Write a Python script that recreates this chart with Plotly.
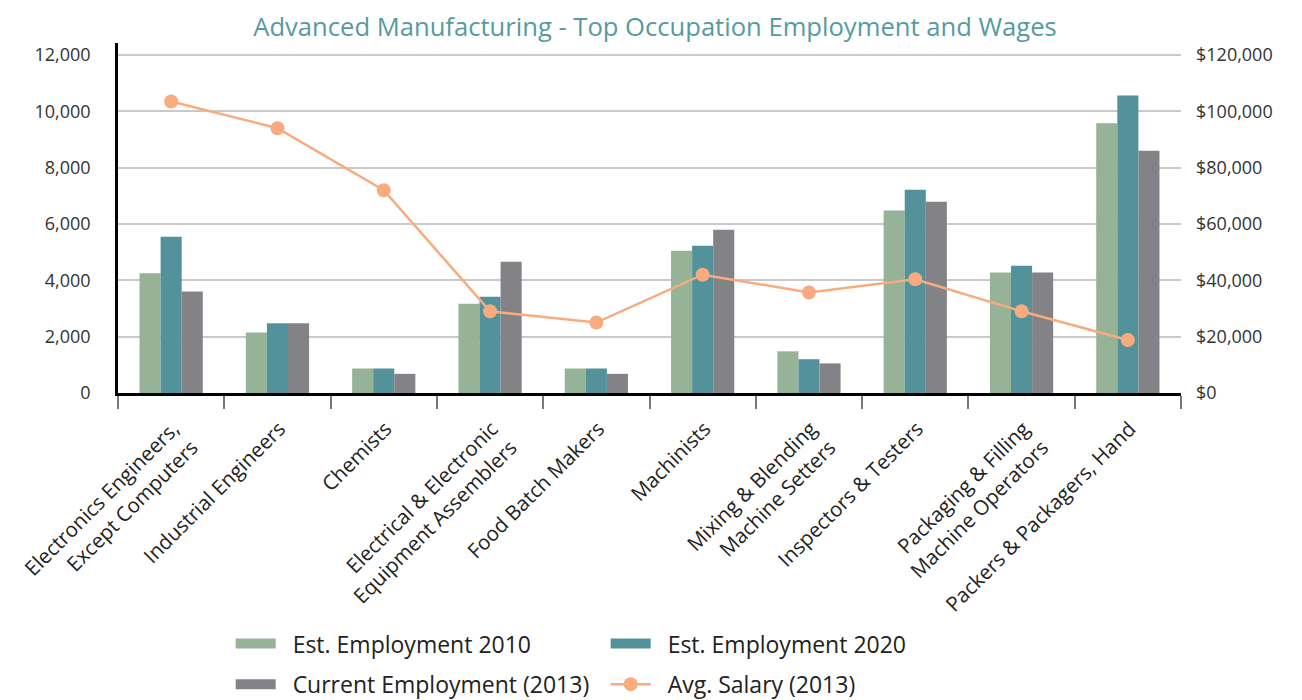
import plotly.graph_objects as go

categories = [
    "Electronics Engineers,<br>Except Computers",
    "Industrial Engineers",
    "Chemists",
    "Electrical & Electronic<br>Equipment Assemblers",
    "Food Batch Makers",
    "Machinists",
    "Mixing & Blending<br>Machine Setters",
    "Inspectors & Testers",
    "Packaging & Filling<br>Machine Operators",
    "Packers & Packagers, Hand",
]
emp_2010 = [4250, 2150, 870, 3170, 870, 5050, 1480, 6480, 4280, 9580]
emp_2020 = [5550, 2480, 870, 3420, 870, 5230, 1200, 7220, 4520, 10560]
emp_2013 = [3600, 2480, 680, 4660, 680, 5800, 1050, 6790, 4280, 8600]
salary_2013 = [103500, 94000, 72000, 29000, 25000, 42000, 35700, 40400, 29000, 18800]

left_ticks = [0, 2000, 4000, 6000, 8000, 10000, 12000]
right_ticks = [0, 20000, 40000, 60000, 80000, 100000, 120000]

names = ["Est. Employment 2010", "Est. Employment 2020",
         "Current Employment (2013)", "Avg. Salary (2013)"]
colors = ["#96B297", "#53929A", "#838387", "#F7AB7E"]

FONT = "Open Sans"
PAD = "\u00a0\u00a0"
fig = go.Figure()
for vals, name, col in zip([emp_2010, emp_2020, emp_2013], names[:3], colors[:3]):
    fig.add_trace(go.Bar(x=categories, y=vals, name=name, showlegend=False,
                         marker=dict(color=col, line_width=0)))
fig.add_trace(go.Scatter(x=categories, y=salary_2013, name=names[3],
                         mode="lines+markers", yaxis="y2", showlegend=False,
                         line=dict(color=colors[3], width=2.5),
                         marker=dict(color=colors[3], size=14)))

# legend-only entries (wide swatches like the original)
for i in range(3):
    fig.add_trace(go.Scatter(x=[None], y=[None], name=PAD + names[i], mode="lines",
                             line=dict(color=colors[i], width=10),
                             legend="legend" if i < 2 else "legend2"))
fig.add_trace(go.Scatter(x=[None], y=[None], name=PAD + names[3], mode="lines+markers",
                         yaxis="y2", line=dict(color=colors[3], width=2.5),
                         marker=dict(color=colors[3], size=14), legend="legend2"))

leg_common = dict(orientation="h", x=0.106, xanchor="left", yanchor="middle",
                  entrywidth=320, itemwidth=40,
                  font=dict(family=FONT, size=23, color="#222222"),
                  traceorder="normal", bgcolor="rgba(0,0,0,0)")

# page body has an 8px margin, so the figure is sized to end at the window edge
fig.update_layout(
    width=1294, height=692,
    paper_bgcolor="white", plot_bgcolor="white",
    margin=dict(l=110, r=121, t=35, b=307, autoexpand=False),
    font=dict(family=FONT, color="#333333", size=18),
    title=dict(text="Advanced Manufacturing - Top Occupation Employment and Wages",
               x=0.5, xanchor="center", y=0.973, yanchor="middle",
               font=dict(family=FONT, size=25.6, color="#559BA0", weight=400)),
    barmode="group", bargap=0.405, bargroupgap=0,
    xaxis=dict(showline=True, linecolor="black", linewidth=2.5,
               ticks="outside", tickson="boundaries", ticklen=13, tickwidth=2,
               tickcolor="#777777", tickangle=-45, automargin=False,
               ticklabelstandoff=13, ticklabelshift=2,
               tickfont=dict(size=20.5, color="#222222"),
               showgrid=False, range=[-0.5, 9.5]),
    yaxis=dict(range=[0, 12426], tickvals=left_ticks,
               ticktext=[f"{v:,}" for v in left_ticks],
               showgrid=True, gridcolor="#C9C9C9", gridwidth=2,
               showline=True, linecolor="black", linewidth=2.5,
               zeroline=False, ticks="", ticklabelstandoff=21, automargin=False,
               tickfont=dict(size=18, color="#333333")),
    yaxis2=dict(range=[0, 124260], tickvals=right_ticks,
                ticktext=[f"${v:,}" for v in right_ticks],
                overlaying="y", side="right", showgrid=False,
                zeroline=False, showline=False, ticks="",
                ticklabelstandoff=14, automargin=False,
                tickfont=dict(size=18, color="#333333")),
    legend=dict(y=-0.716, **leg_common),
    legend2=dict(y=-0.832, **leg_common),
    showlegend=True,
)

fig.write_html("out.html")
